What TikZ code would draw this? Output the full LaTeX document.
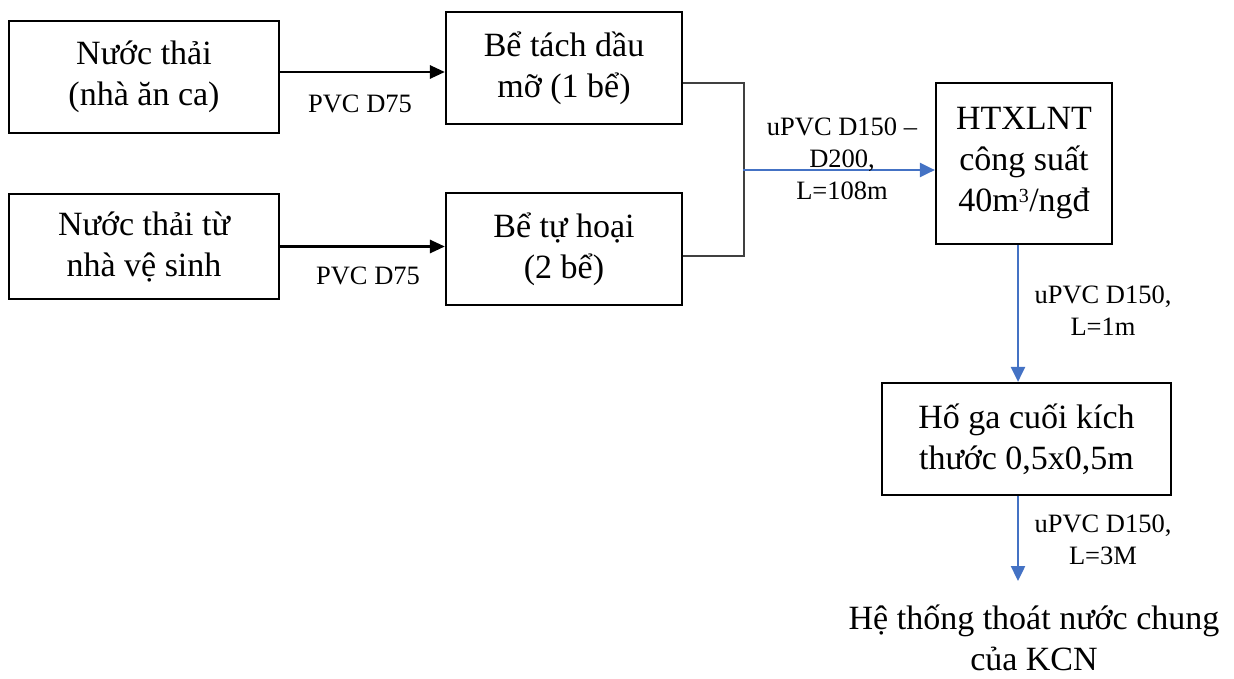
\documentclass[tikz,border=0pt]{standalone}
\usepackage{fontspec}
\setmainfont{Liberation Serif}
\usetikzlibrary{arrows.meta}
\definecolor{pipeblue}{HTML}{4472C4}
\definecolor{bracketgray}{HTML}{404040}
\newcommand{\bigtxt}{\fontsize{34}{41}\selectfont}
\newcommand{\lbltxt}{\fontsize{26.5}{32}\selectfont}
\tikzset{
  box/.style={draw=black, line width=2.2pt, inner sep=0pt, align=center, font=\bigtxt},
  blackarrow/.style={line width=2.8pt, -{Triangle[length=15pt,width=13pt]}},
  bluearrow/.style={draw=pipeblue, line width=2.4pt, -{Triangle[length=15pt,width=14pt]}, color=pipeblue},
  bracketline/.style={draw=bracketgray, line width=1.4pt},
  lbl/.style={inner sep=0pt, align=center, font=\lbltxt},
}
\begin{document}
\begin{tikzpicture}[x=1pt,y=-1pt]
\useasboundingbox (0,0) rectangle (1234,678);
\node[box, minimum width=270pt, minimum height=112pt] (b1) at (144,77) {Nước thải\\(nhà ăn ca)};
\node[box, minimum width=236pt, minimum height=112pt] (b2) at (564,68) {Bể tách dầu\\mỡ (1 bể)};
\node[box, minimum width=270pt, minimum height=105pt] (b3) at (144,246.5) {Nước thải từ\\nhà vệ sinh};
\node[box, minimum width=236pt, minimum height=112pt] (b4) at (564,249) {Bể tự hoại\\(2 bể)};
\node[box, minimum width=176pt, minimum height=161pt] (ht) at (1024,163.5) {HTXLNT\\công suất\\40m\textsuperscript{\fontsize{20}{20}\selectfont 3}/ngđ};
\node[box, minimum width=289pt, minimum height=112pt] (hg) at (1026.5,439) {Hố ga cuối kích\\thước 0,5x0,5m};
\node[inner sep=0pt, align=center, font=\bigtxt] (out) at (1034,638) {Hệ thống thoát nước chung\\của KCN};
\coordinate (j) at (743,170);
\coordinate (end) at (1018,581);
% black arrows
\draw[blackarrow] ([yshift=5pt]b1.east) -- ([yshift=5pt]b1.east -| b2.west);
\draw[blackarrow] (b3.east) -- (b3.east -| b4.west);
\node[lbl] (l1) at (360,104) {PVC D75};
\node[lbl] (l2) at (368,276) {PVC D75};
% bracket
\draw[bracketline] ([yshift=-15pt]b2.east) -- ++(61,0) -- ([xshift=61pt,yshift=-7pt]b4.east) -- ([yshift=-7pt]b4.east);
% blue arrows
\draw[bluearrow] (j) -- (j -| ht.west);
\node[lbl] (l3) at (842,159) {uPVC D150 –\\D200,\\L=108m};
\draw[bluearrow] ([xshift=-6pt]ht.south) -- ([xshift=-6pt]ht.south |- hg.north);
\node[lbl] (l4) at (1103,311) {uPVC D150,\\L=1m};
\draw[bluearrow] (end |- hg.south) -- (end);
\node[lbl] (l5) at (1103,540) {uPVC D150,\\L=3M};
\end{tikzpicture}
\end{document}
